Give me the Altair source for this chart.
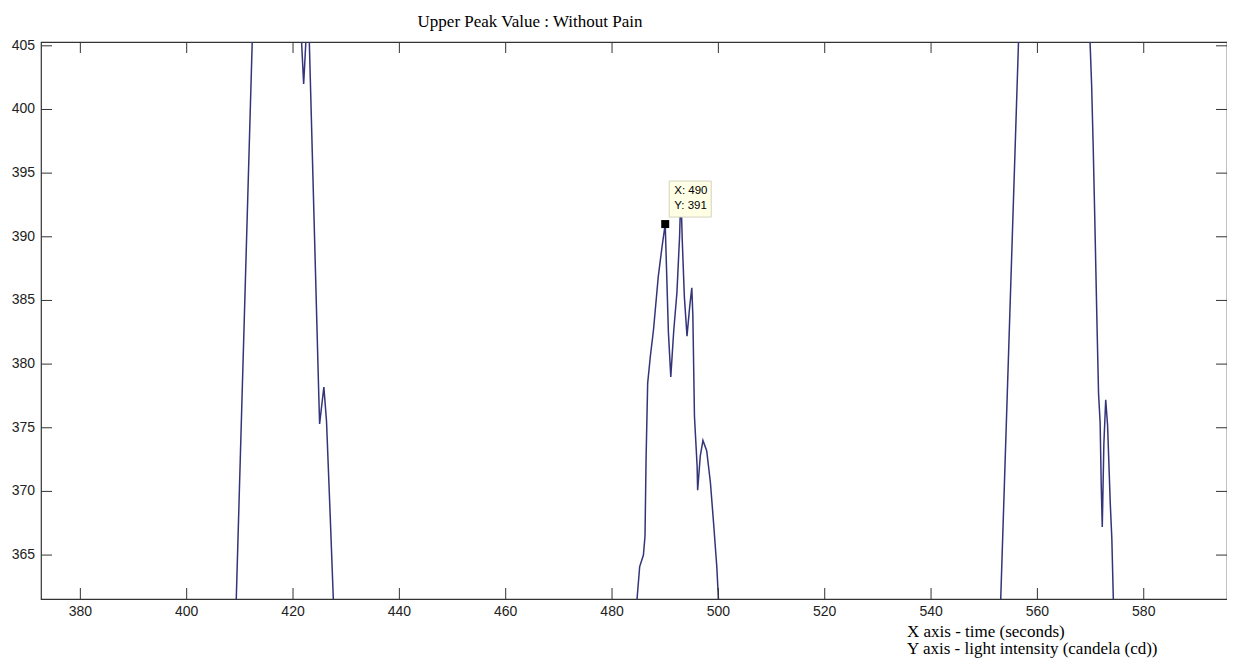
import altair as alt
import pandas as pd

# ---- data ----
time_s = [
    409.0, 412.6, 421.5, 422.0, 422.5, 423.0, 424.85, 425.0, 425.8, 426.3, 427.0, 427.9,
    484.2, 485.2, 485.9, 486.2, 486.4, 486.7, 487.2, 487.8, 488.7, 489.4, 490.0, 490.6,
    491.05, 491.6, 492.2, 492.7, 492.95, 493.2, 493.6, 494.1, 494.6, 495.0, 495.2, 495.5,
    496.0, 496.1, 496.6, 497.1, 497.8, 498.5, 499.1, 499.7, 500.2,
    553.0, 556.6, 569.8, 570.2, 570.5, 570.8, 571.2, 571.5, 571.8, 572.0, 572.2, 572.5,
    572.85, 573.2, 573.7, 574.0, 574.4,
]
intensity_cd = [
    356.8, 409.3, 406.2, 402.0, 406.0, 406.3, 377.5, 375.3, 378.2, 375.5, 368.0, 358.0,
    359.0, 364.1, 365.0, 366.5, 372.5, 378.5, 380.6, 382.7, 386.9, 389.2, 391.0, 382.5,
    379.0, 382.6, 385.6, 390.0, 393.5, 389.8, 385.3, 382.2, 384.5, 386.0, 383.8, 375.9,
    372.0, 370.1, 372.8, 374.0, 373.2, 370.7, 367.5, 364.1, 360.0,
    360.2, 407.3, 406.5, 401.9, 397.0, 391.3, 383.3, 377.7, 375.4, 370.6, 367.2, 373.7,
    377.2, 375.2, 369.1, 366.3, 359.5,
]
x_ticks = [380, 400, 420, 440, 460, 480, 500, 520, 540, 560, 580]
y_ticks = [365, 370, 375, 380, 385, 390, 395, 400, 405]
datatip_x = [490]
datatip_y = [391]
title_text = "Upper Peak Value : Without Pain"
caption_lines = ["X axis - time (seconds)", "Y axis - light intensity (candela (cd))"]

X_DOMAIN = [372.6, 595.66]
Y_DOMAIN = [361.55, 405.3]
W, H = 1186, 557
TICK = 11
LINE_COLOR = "#34347a"
AXIS_COLOR = "#333333"
LABEL_COLOR = "#222222"

xs = alt.Scale(domain=X_DOMAIN, nice=False, zero=False)
ys = alt.Scale(domain=Y_DOMAIN, nice=False, zero=False)

df = pd.DataFrame({"t": time_s, "v": intensity_cd})

line = alt.Chart(df).mark_line(clip=True, color=LINE_COLOR, strokeWidth=1.5).encode(
    x=alt.X("t:Q", scale=xs, axis=None),
    y=alt.Y("v:Q", scale=ys, axis=None),
)

xt = pd.DataFrame({"t": x_ticks})
yt = pd.DataFrame({"v": y_ticks})

xtick_bottom = alt.Chart(xt).mark_rule(color=AXIS_COLOR, strokeWidth=1).encode(
    x=alt.X("t:Q", scale=xs, axis=None), y=alt.value(H), y2=alt.value(H - TICK))
xtick_top = alt.Chart(xt).mark_rule(color=AXIS_COLOR, strokeWidth=1).encode(
    x=alt.X("t:Q", scale=xs, axis=None), y=alt.value(0), y2=alt.value(TICK))
ytick_left = alt.Chart(yt).mark_rule(color=AXIS_COLOR, strokeWidth=1).encode(
    y=alt.Y("v:Q", scale=ys, axis=None), x=alt.value(0), x2=alt.value(TICK))
ytick_right = alt.Chart(yt).mark_rule(color=AXIS_COLOR, strokeWidth=1).encode(
    y=alt.Y("v:Q", scale=ys, axis=None), x=alt.value(W - TICK), x2=alt.value(W))

xlab = alt.Chart(xt).mark_text(
    align="center", baseline="middle", font="Liberation Sans", fontSize=14, color=LABEL_COLOR
).encode(x=alt.X("t:Q", scale=xs, axis=None), y=alt.value(H + 13), text=alt.Text("t:Q", format="d"))
ylab = alt.Chart(yt).mark_text(
    align="right", baseline="middle", font="Liberation Sans", fontSize=14, color=LABEL_COLOR
).encode(y=alt.Y("v:Q", scale=ys, axis=None), x=alt.value(-6), text=alt.Text("v:Q", format="d"))

tip = pd.DataFrame({"x": datatip_x, "y": datatip_y})
tip_base = alt.Chart(tip).transform_calculate(
    lx="'X: ' + datum.x", ly="'Y: ' + datum.y")

marker = tip_base.mark_square(color="black", size=64, opacity=1).encode(
    x=alt.X("x:Q", scale=xs, axis=None), y=alt.Y("y:Q", scale=ys, axis=None))
tip_box = tip_base.mark_rect(fill="#ffffe6", stroke="#d4d2bc", strokeWidth=1,
                             xOffset=4, x2Offset=46, yOffset=-43, y2Offset=-7).encode(
    x=alt.X("x:Q", scale=xs, axis=None), x2="x:Q",
    y=alt.Y("y:Q", scale=ys, axis=None), y2="y:Q")
tip_tx = tip_base.mark_text(align="left", baseline="middle", dx=9, dy=-33,
                            font="Liberation Sans", fontSize=11.5, color="black").encode(
    x=alt.X("x:Q", scale=xs, axis=None), y=alt.Y("y:Q", scale=ys, axis=None), text="lx:N")
tip_ty = tip_base.mark_text(align="left", baseline="middle", dx=9, dy=-18,
                            font="Liberation Sans", fontSize=11.5, color="black").encode(
    x=alt.X("x:Q", scale=xs, axis=None), y=alt.Y("y:Q", scale=ys, axis=None), text="ly:N")

title = alt.Chart(pd.DataFrame({"s": [title_text]})).mark_text(
    align="center", baseline="middle", font="Liberation Serif", fontSize=17, color="black"
).encode(text="s:N", x=alt.value(489), y=alt.value(-20))

cap1 = alt.Chart(pd.DataFrame({"s": [caption_lines[0]]})).mark_text(
    align="left", baseline="middle", font="Liberation Serif", fontSize=17, color="black"
).encode(text="s:N", x=alt.value(866), y=alt.value(590))
cap2 = alt.Chart(pd.DataFrame({"s": [caption_lines[1]]})).mark_text(
    align="left", baseline="middle", font="Liberation Serif", fontSize=17, color="black"
).encode(text="s:N", x=alt.value(866), y=alt.value(607))

chart = alt.layer(
    line, xtick_bottom, xtick_top, ytick_left, ytick_right, xlab, ylab,
    marker, tip_box, tip_tx, tip_ty, title, cap1, cap2,
).properties(
    width=W, height=H,
    autosize=alt.AutoSizeParams(type="none"),
    padding={"left": 33, "top": 34, "right": 0, "bottom": 62},
    background="white",
).configure_view(stroke=AXIS_COLOR, strokeWidth=1.2)

chart.save("out.html", embed_options={"renderer": "svg", "actions": False})
